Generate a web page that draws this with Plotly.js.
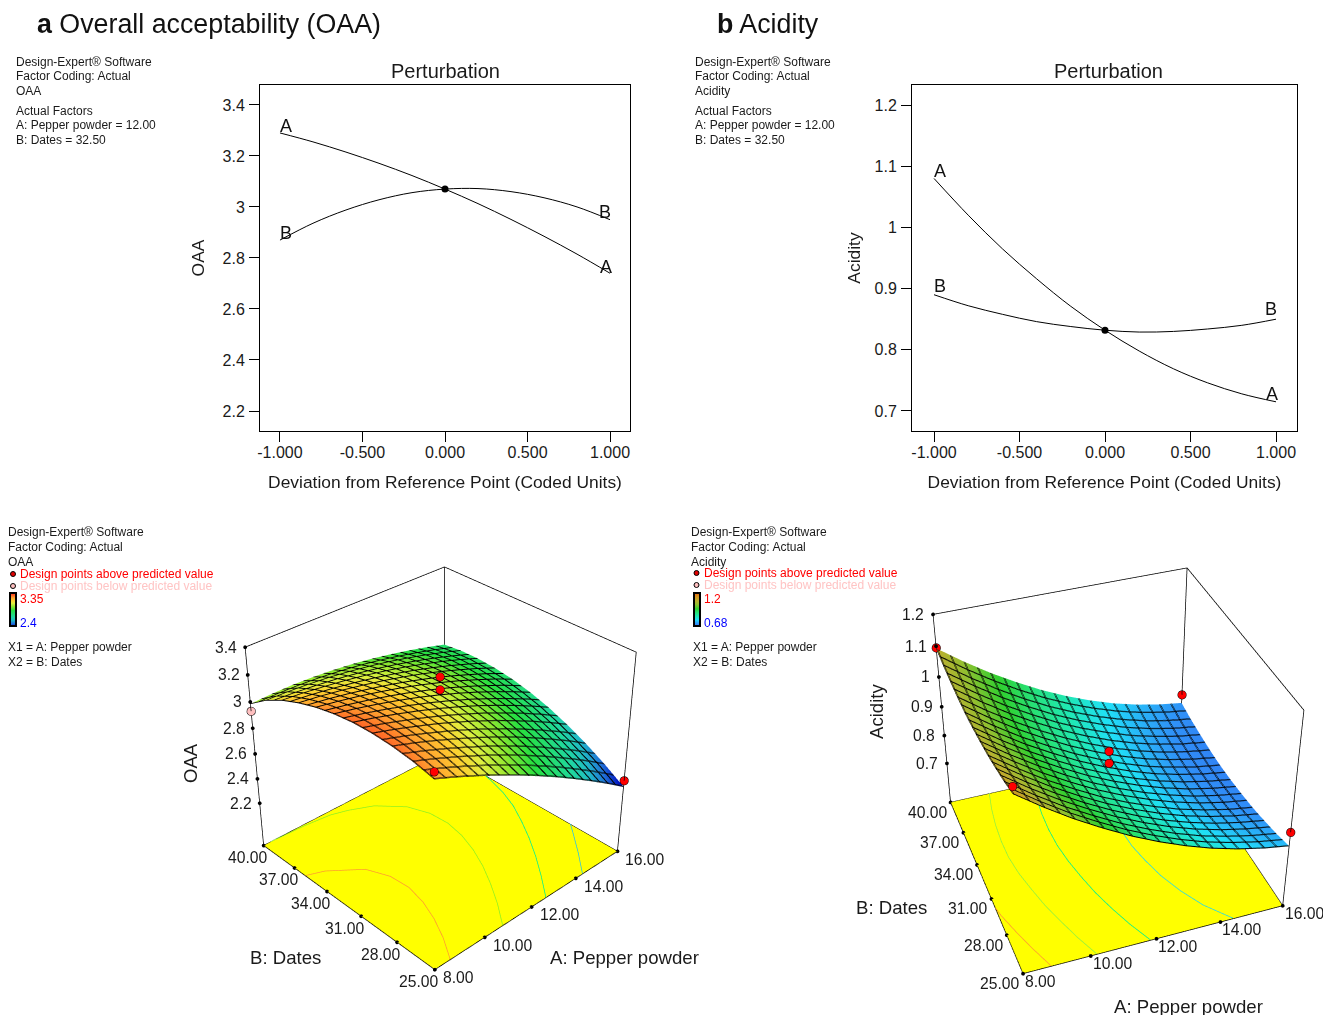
<!DOCTYPE html>
<html><head><meta charset="utf-8">
<script src="https://cdn.plot.ly/plotly-3.0.1.min.js"></script>
<style>html,body{margin:0;padding:0;background:#fff;overflow:hidden}
#wrap{width:1323px;height:1015px;overflow:hidden;position:relative}</style>
</head><body><div id="wrap"><div id="chart"></div></div>
<script>
// ---------- data ----------
const devA = [-1,-0.8,-0.6,-0.4,-0.2,0,0.2,0.4,0.6,0.8,1];
const oaaCurveA = [3.29,3.255,3.215,3.171,3.123,3.07,3.013,2.951,2.885,2.815,2.74];
const oaaCurveB = [2.87,2.936,2.988,3.028,3.056,3.07,3.072,3.06,3.036,3.0,2.95];
const acidCurveA = [1.08,1.02,0.965,0.916,0.871,0.832,0.798,0.769,0.746,0.728,0.715];
const acidCurveB = [0.89,0.872,0.858,0.846,0.838,0.832,0.829,0.83,0.834,0.84,0.85];

const gridPepper = [8,8.8,9.6,10.4,11.2,12,12.8,13.6,14.4,15.2,16];
const gridDates = [25,26.5,28,29.5,31,32.5,34,35.5,37,38.5,40];
const oaaSurface = [
 [3.25,3.183,3.111,3.035,2.955,2.87,2.781,2.687,2.589,2.487,2.38],
 [3.284,3.223,3.158,3.088,3.015,2.936,2.853,2.766,2.674,2.579,2.478],
 [3.304,3.25,3.191,3.127,3.06,2.988,2.912,2.831,2.745,2.656,2.562],
 [3.312,3.264,3.211,3.155,3.094,3.028,2.958,2.883,2.805,2.722,2.634],
 [3.308,3.267,3.22,3.17,3.115,3.056,2.993,2.924,2.852,2.776,2.694],
 [3.29,3.255,3.215,3.171,3.123,3.07,3.013,2.951,2.885,2.815,2.74],
 [3.26,3.231,3.198,3.16,3.119,3.072,3.021,2.966,2.906,2.843,2.774],
 [3.216,3.194,3.167,3.135,3.1,3.06,3.016,2.967,2.913,2.856,2.794],
 [3.16,3.144,3.123,3.099,3.07,3.036,2.998,2.955,2.909,2.858,2.802],
 [3.085,3.078,3.066,3.05,3.027,3.0,2.969,2.932,2.892,2.847,2.798],
 [2.985,2.99,2.99,2.982,2.969,2.95,2.925,2.895,2.861,2.823,2.78]];
const acidSurface = [
 [1.143,1.082,1.026,0.976,0.93,0.89,0.855,0.825,0.801,0.782,0.768],
 [1.124,1.063,1.007,0.958,0.912,0.872,0.837,0.807,0.784,0.765,0.751],
 [1.109,1.048,0.993,0.943,0.898,0.858,0.823,0.794,0.77,0.752,0.738],
 [1.096,1.036,0.98,0.931,0.885,0.846,0.812,0.782,0.759,0.74,0.727],
 [1.087,1.027,0.972,0.922,0.877,0.838,0.804,0.775,0.751,0.733,0.72],
 [1.08,1.02,0.965,0.916,0.871,0.832,0.798,0.769,0.746,0.728,0.715],
 [1.076,1.016,0.961,0.913,0.868,0.829,0.795,0.766,0.744,0.726,0.713],
 [1.076,1.016,0.962,0.913,0.869,0.83,0.796,0.768,0.745,0.728,0.715],
 [1.079,1.02,0.965,0.917,0.872,0.834,0.801,0.772,0.75,0.732,0.72],
 [1.084,1.025,0.971,0.922,0.878,0.84,0.807,0.779,0.756,0.739,0.727],
 [1.093,1.034,0.98,0.932,0.888,0.85,0.817,0.789,0.767,0.75,0.738]];

// design points
const oaaPtsAbove = {x:[8,16,12,12], y:[25,25,32.5,32.5], z:[3.30,2.43,3.11,3.205]};
const oaaPtsBelow = {x:[8], y:[40], z:[2.93]};
const acidPtsAbove = {x:[8,16,8,16,12,12], y:[40,40,25,25,32.5,32.5], z:[1.095,0.768,1.165,0.815,0.87,0.91]};

// contour lines on the floor
const oaaContours = [
 {color:'#ff9a30', x:[8,8.58,9.55,9.88,9.93,9.77,9.48,9.09,8.6], y:[35.95,35.5,34,32.5,31,29.5,28,26.5,25]},
 {color:'#90f020', x:[10.75,11.35,11.87,12.33,12.7,12.97,13.11,13.06,12.76,12,11.2,10.6,9.6,8.28], y:[25,26.5,28,29.5,31,32.5,34,35.5,37,38.5,39.25,39.63,39.85,39.96]},
 {color:'#00f090', x:[12.63,13.29,13.9,14.45,14.94,15.38,15.7,15.92,16], y:[25,26.5,28,29.5,31,32.5,34,35.5,36.25]},
 {color:'#20c0f0', x:[14.31,15.02,15.68,16], y:[25,26.5,28,28.75]}];
const acidContours = [
 {color:'#ff9a30', x:[8.82,8.54,8.29,8.07,8], y:[25,26.5,28,29.5,30.2]},
 {color:'#90f040', x:[10.18,9.88,9.63,9.4,9.23,9.08,9,9,9.05,9.15,9.3], y:[25,26.5,28,29.5,31,32.5,34,35.5,37,38.5,40]},
 {color:'#00f090', x:[11.81,11.48,11.21,10.98,10.81,10.67,10.58,10.56,10.59,10.67,10.83], y:[25,26.5,28,29.5,31,32.5,34,35.5,37,38.5,40]},
 {color:'#20d8f0', x:[14.4,13.8,13.4,13.1,12.9,12.75,12.7,12.76,12.91,13.14,13.58], y:[25,26.5,28,29.5,31,32.5,34,35.5,37,38.5,40]}];

const pepperTicks = [8,10,12,14,16];
const datesTicks = [25,28,31,34,37,40];
const oaaZTicks = [2.2,2.4,2.6,2.8,3,3.2,3.4];
const acidZTicks = [0.7,0.8,0.9,1,1.1,1.2];
const oaaZRange = [1.84,3.4];
const acidZRange = [0.555,1.2];
const oaaColorRange = [2.4,3.35];
const acidColorRange = [0.68,1.2];

const oaaTickVals = [2.2,2.4,2.6,2.8,3,3.2,3.4];
const acidTickVals = [0.7,0.8,0.9,1,1.1,1.2];
const devTickVals = [-1,-0.5,0,0.5,1];
const devTickText = ['-1.000','-0.500','0.000','0.500','1.000'];

// ---------- page helpers ----------
const W=1323, H=1340;
const FONT='"Liberation Sans", Arial, Helvetica, sans-serif';
const px=x=>x/W, py=y=>1-y/H;
const oaaScale=[[0,'#0010c0'],[0.1,'#2070d8'],[0.2,'#20b8c8'],[0.3,'#20d8a0'],[0.5,'#28e040'],[0.62,'#90e830'],[0.72,'#e0f040'],[0.8,'#ffd030'],[0.89,'#ffa030'],[1,'#ff4020']];
const acidScale=[[0,'#3070f0'],[0.1,'#3090f8'],[0.22,'#20e0f8'],[0.33,'#20e8b0'],[0.45,'#28e070'],[0.55,'#30d030'],[0.68,'#90c030'],[0.78,'#b8b030'],[0.9,'#d09820'],[1,'#e07010']];

function note(text,x,y,o={}){
 return Object.assign({xref:'paper',yref:'paper',x:px(x-1),y:py(y),text,showarrow:false,
   xanchor:'left',yanchor:'middle',borderpad:0,font:{family:FONT,size:12,color:'#1a1a1a'}},o);
}
function textBlock(lines,x){return lines.map(l=>note(l[0],x,l[1]));}

const data=[], annotations=[], shapes=[];

// ---------- perturbation panels ----------
function perturbation(ax,curveA,curveB,dotY){
 const sfx=ax==1?'':ax;
 const common={xaxis:'x'+sfx,yaxis:'y'+sfx,hoverinfo:'skip',showlegend:false};
 data.push(Object.assign({type:'scatter',mode:'lines',x:devA,y:curveA,line:{color:'#000',width:1,shape:'spline'}},common));
 data.push(Object.assign({type:'scatter',mode:'lines',x:devA,y:curveB,line:{color:'#000',width:1,shape:'spline'}},common));
 data.push(Object.assign({type:'scatter',mode:'markers',x:[0],y:[dotY],marker:{color:'#000',size:7}},common));
}
perturbation(1,oaaCurveA,oaaCurveB,3.07);
perturbation(2,acidCurveA,acidCurveB,0.832);

function curveLabels(sfx,items){
 items.forEach(i=>annotations.push({xref:'x'+sfx,yref:'y'+sfx,x:i[1],y:i[2],text:i[0],showarrow:false,
   xanchor:'center',yanchor:'middle',font:{family:FONT,size:18,color:'#111'}}));
}
curveLabels('',[['A',-0.965,3.318],['B',-0.965,2.898],['B',0.97,2.98],['A',0.976,2.765]]);
curveLabels('2',[['A',-0.965,1.092],['B',-0.965,0.904],['B',0.97,0.867],['A',0.975,0.728]]);

function axis2d(dom,range,tickvals,ticktext,title,standoff,isX){
 return {domain:dom,range,tickmode:'array',tickvals,ticktext,ticks:'outside',ticklen:10,tickwidth:1,tickcolor:'#000',
  showline:true,mirror:true,linecolor:'#000',linewidth:1,showgrid:false,zeroline:false,
  ticklabelstandoff:isX?-3:1,
  tickfont:{family:FONT,size:16,color:'#1a1a1a'},
  title:{text:title,standoff,font:{family:FONT,size:17.4,color:'#1a1a1a'}}};
}

// ---------- response surfaces ----------
function scene3d(id,surface,zRange,colorRange,scale,contours,above,below,zTicks,barX,o){
 const base={scene:id,hoverinfo:'skip',showlegend:false};
 const z0=zRange[0],z1=zRange[1];
 // floor
 data.push(Object.assign({type:'surface',x:[8,16],y:[25,40],z:[[z0,z0],[z0,z0]],
   colorscale:[[0,'#ffff00'],[1,'#ffff00']],showscale:false,
   lighting:{ambient:1,diffuse:0,specular:0,fresnel:0,roughness:1}},base));
 const lift=(z1-z0)*0.003;
 contours.forEach(c=>data.push(Object.assign({type:'scatter3d',mode:'lines',x:c.x,y:c.y,
   z:c.x.map(()=>z0+lift),line:{color:c.color,width:1.5}},base)));
 // surface
 const wire=(x0,y0)=>({x:{show:true,start:x0,end:16,size:0.4,color:'#000',width:2,highlight:false},
             y:{show:true,start:y0,end:40,size:0.75,color:'#000',width:2,highlight:false},
             z:{highlight:false}});
 data.push(Object.assign({type:'surface',x:gridPepper,y:gridDates,z:surface,
   cmin:colorRange[0],cmax:colorRange[1],colorscale:scale,
   lighting:{ambient:1,diffuse:0,specular:0,fresnel:0,roughness:1},
   contours:wire(8,25),
   showscale:true,
   colorbar:{x:px(barX),xanchor:'left',y:py(610),yanchor:'middle',len:33,lenmode:'pixels',thickness:6,
     thicknessmode:'pixels',xpad:0,ypad:0,outlinecolor:'#000',outlinewidth:2,borderwidth:0,ticks:'',tickvals:[],showticklabels:false}
 },base));
 // second pass of the mesh, a hair along, so that the wires read as heavy as in the reference
 data.push(Object.assign({type:'surface',x:gridPepper,y:gridDates,z:surface,hidesurface:true,
   cmin:colorRange[0],cmax:colorRange[1],colorscale:scale,showscale:false,
   contours:wire(8.04,25.07)},base));
 // frame
 const a=8,b=16,c=25,d=40;
 data.push(Object.assign({type:'scatter3d',mode:'lines',
   x:[a,a,b,b,a,a,b,b,b,null,b,b],
   y:[d,c,c,d,d,d,d,c,c,null,d,d],
   z:[z0,z0,z0,z0,z0,z1,z1,z1,z0,null,z0,z1],
   line:{color:'#000',width:1.5},connectgaps:false},base));
 // ticks
 data.push(Object.assign({type:'scatter3d',mode:'markers',
   x:pepperTicks.concat(datesTicks.map(()=>8)).concat(zTicks.map(()=>8)),
   y:pepperTicks.map(()=>25).concat(datesTicks).concat(zTicks.map(()=>40)),
   z:pepperTicks.map(()=>z0).concat(datesTicks.map(()=>z0)).concat(zTicks),
   marker:{size:2.2,color:'#000'}},base));
 // design points
 data.push(Object.assign({type:'scatter3d',mode:'markers',x:above.x,y:above.y,z:above.z,
   marker:{size:5,color:'#ff0000',line:{color:'#000',width:1}}},base));
 if(below) data.push(Object.assign({type:'scatter3d',mode:'markers',x:below.x,y:below.y,z:below.z,
   marker:{size:5,color:'#ffc0c0',line:{color:'#000',width:1}}},base));

 const anns=[];
 const lab=(x,y,z,t,xa,xs,ys)=>anns.push({x,y,z,text:t,showarrow:false,xanchor:xa,yanchor:'middle',xshift:xs,yshift:ys,
    font:{family:FONT,size:15.7,color:'#1a1a1a'}});
 pepperTicks.forEach(v=>lab(v,25,z0,v.toFixed(2),'left',o.ax,o.ay));
 datesTicks.forEach(v=>lab(8,v,z0,v.toFixed(2),'right',o.bx,o.by));
 zTicks.forEach(v=>lab(8,40,v,String(v),'right',o.zx,0));

 const ax={showgrid:false,zeroline:false,showline:false,showticklabels:false,showbackground:false,showspikes:false,ticks:'',title:{text:''}};
 const zPad=(z1-z0)*0.004;
 return {
  domain:{x:[px(o.cx-o.w),px(o.cx+o.w)],y:[py(o.cy+o.h),py(o.cy-o.h)]},
  bgcolor:'rgba(0,0,0,0)',
  aspectmode:'manual',aspectratio:{x:o.sc,y:o.sc,z:o.zr*1.008},
  camera:{eye:o.eye,center:{x:0,y:0,z:0},up:{x:0,y:0,z:1},projection:{type:'perspective'}},
  xaxis:Object.assign({range:[7.97,16.03]},ax),
  yaxis:Object.assign({range:[24.95,40.05]},ax),
  zaxis:Object.assign({range:[z0-zPad,z1+zPad]},ax),
  annotations:anns, dragmode:false
 };
}
const sceneC=scene3d('scene',oaaSurface,oaaZRange,oaaColorRange,oaaScale,oaaContours,oaaPtsAbove,oaaPtsBelow,oaaZTicks,10,
 {cx:440,cy:754,w:440,h:533,sc:1.0075,zr:0.9,eye:{x:-2.827,y:-2.98,z:2.669},ax:6,ay:-8,bx:6,by:-12,zx:-6});
const sceneD=scene3d('scene2',acidSurface,acidZRange,acidColorRange,acidScale,acidContours,acidPtsAbove,null,acidZTicks,694,
 {cx:1109,cy:761,w:214,h:557,sc:1.002,zr:0.88,eye:{x:-1.321,y:-3.649,z:2.992},ax:0,ay:-8,bx:-1,by:-10,zx:-7});

// ---------- text ----------
annotations.push(note('<b>a</b> Overall acceptability (OAA)',37,24,{font:{family:FONT,size:26.8,color:'#111'}}));
annotations.push(note('<b>b</b> Acidity',717,24,{font:{family:FONT,size:26.8,color:'#111'}}));
annotations.push(note('Perturbation',446,71,{xanchor:'center',font:{family:FONT,size:20,color:'#1a1a1a'}}));
annotations.push(note('Perturbation',1109,71,{xanchor:'center',font:{family:FONT,size:20,color:'#1a1a1a'}}));

const blockRows=[62,76,91,111,125,140];
['OAA','Acidity'].forEach((name,i)=>{
 const lines=['Design-Expert® Software','Factor Coding: Actual',name,'Actual Factors','A: Pepper powder = 12.00','B: Dates = 32.50'];
 annotations.push(...textBlock(lines.map((t,k)=>[t,blockRows[k]]),i?694.5:16));
});
function legendBlock(name,x0,xLeg,xDot,barHigh,barLow,xFac,yRed,yPink){
 annotations.push(...textBlock([['Design-Expert® Software',532],['Factor Coding: Actual',547],[name,562]],x0));
 annotations.push(note('Design points above predicted value',xLeg,yRed,{font:{family:FONT,size:12,color:'#ff0000'}}));
 annotations.push(note('Design points below predicted value',xLeg,yPink,{font:{family:FONT,size:12,color:'#ffc4c4'}}));
 annotations.push(note(barHigh,xLeg,599,{font:{family:FONT,size:12,color:'#ff0000'}}));
 annotations.push(note(barLow,xLeg,623,{font:{family:FONT,size:12,color:'#0000ff'}}));
 annotations.push(...textBlock([['X1 = A: Pepper powder',647],['X2 = B: Dates',662]],xFac));
 [[yRed,'#e00000'],[yPink,'#ffc0c0']].forEach(d=>shapes.push({type:'circle',xref:'paper',yref:'paper',
   x0:px(xDot-2.5),x1:px(xDot+2.5),y0:py(d[0]+2.5),y1:py(d[0]-2.5),fillcolor:d[1],line:{color:'#000',width:1}}));
}
legendBlock('OAA',8,20,13,'3.35','2.4',8,574,586);
legendBlock('Acidity',691,704,696.5,'1.2','0.68',693,573,585);

const big={family:FONT,size:18.6,color:'#1a1a1a'};
annotations.push(note('OAA',191,763,{xanchor:'center',textangle:-90,font:big}));
annotations.push(note('B: Dates',286,957,{xanchor:'center',font:big}));
annotations.push(note('A: Pepper powder',625,957,{xanchor:'center',font:big}));
annotations.push(note('Acidity',877,712,{xanchor:'center',textangle:-90,font:big}));
annotations.push(note('B: Dates',892,907,{xanchor:'center',font:big}));
annotations.push(note('A: Pepper powder',1189,1006,{xanchor:'center',font:big}));

const xDomA=[px(260),px(630)], xDomB=[px(912),px(1297)], yDom=[py(431),py(85)];
const layout={
 width:W,height:H,margin:{l:0,r:0,t:0,b:0},paper_bgcolor:'#fff',plot_bgcolor:'#fff',showlegend:false,
 xaxis:Object.assign(axis2d(xDomA,[-1.121,1.121],devTickVals,devTickText,'Deviation from Reference Point (Coded Units)',15,true),{anchor:'y'}),
 yaxis:Object.assign(axis2d(yDom,[2.1216,3.478],oaaTickVals,oaaTickVals.map(String),'OAA',13,false),{anchor:'x'}),
 xaxis2:Object.assign(axis2d(xDomB,[-1.1287,1.1228],devTickVals,devTickText,'Deviation from Reference Point (Coded Units)',15,true),{anchor:'y2'}),
 yaxis2:Object.assign(axis2d(yDom,[0.6673,1.2327],acidTickVals,acidTickVals.map(String),'Acidity',9,false),{anchor:'x2'}),
 scene:sceneC,scene2:sceneD,annotations,shapes
};
Plotly.newPlot('chart',data,layout,{displayModeBar:false,responsive:false});
</script></body></html>
